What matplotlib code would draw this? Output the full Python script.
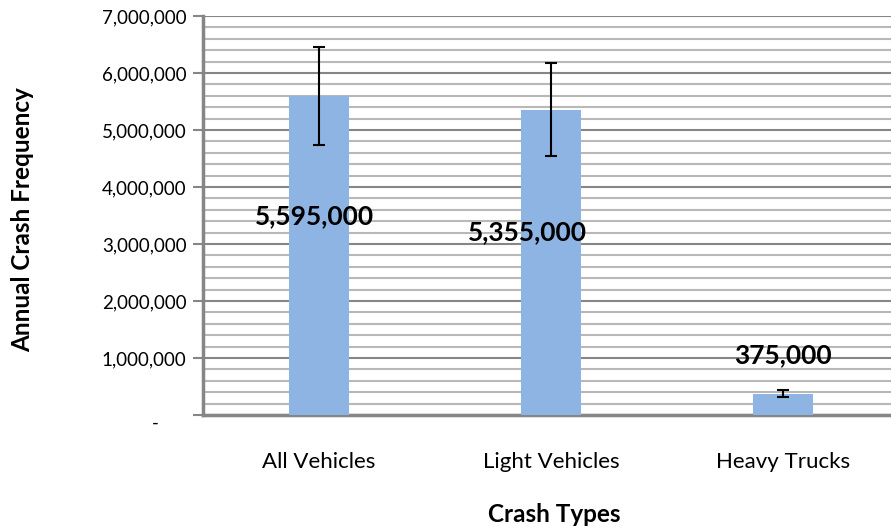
import matplotlib.pyplot as plt
import matplotlib.transforms as mtransforms
from matplotlib.ticker import MultipleLocator, FuncFormatter

categories = ['All Vehicles', 'Light Vehicles', 'Heavy Trucks']
values = [5595000, 5355000, 375000]
errors = [860000, 820000, 55000]
labels = ['5,595,000', '5,355,000', '375,000']
label_pos = [(-0.02, 3490000), (0.897, 3210000), (2, 1050000)]

plt.rcParams['font.family'] = ['Lato', 'DejaVu Sans']

def fmt(v, pos):
    if v == 0:
        return ''
    return format(int(v), ',')

fig = plt.figure(figsize=(8.91, 5.31), dpi=100)
ax = fig.add_axes([0.228, 0.2185, 0.781, 0.7515])

x = range(len(categories))
ax.bar(x, values, width=0.26, color='#8EB4E3', zorder=3)
ax.errorbar(x, values, yerr=errors, fmt='none', ecolor='black', elinewidth=1.5,
            capsize=4.5, capthick=1.5, zorder=4)

for (px, py), t in zip(label_pos, labels):
    ax.text(px, py, t, ha='center', va='center', fontsize=19, fontweight='bold', zorder=5)

ax.set_xlim(-0.5, 2.5)
ax.set_ylim(0, 7000000)
ax.yaxis.set_major_locator(MultipleLocator(1000000))
ax.yaxis.set_minor_locator(MultipleLocator(200000))
ax.yaxis.set_major_formatter(FuncFormatter(fmt))
ax.grid(which='major', axis='y', color='#868686', linewidth=1.5, zorder=1)
ax.grid(which='minor', axis='y', color='#b8b8b8', linewidth=1.5, zorder=1)

# accounting-style dash for zero
trans = mtransforms.blended_transform_factory(ax.transAxes, ax.transData)
ax.text(-0.069, -150000, '-', transform=trans, ha='center', va='center', fontsize=13.5)

ax.set_xticks(list(x))
ax.set_xticklabels(categories, fontsize=16)
ax.tick_params(axis='x', length=0, pad=27)
ax.tick_params(axis='y', which='major', length=7, width=1.5, color='#868686', labelsize=13.5, pad=5)
ax.tick_params(axis='y', which='minor', length=0)

for s in ['top', 'right']:
    ax.spines[s].set_visible(False)
ax.spines['left'].set_color('#868686')
ax.spines['left'].set_linewidth(2.5)
ax.spines['bottom'].set_color('#868686')
ax.spines['bottom'].set_linewidth(2.5)

ax.set_ylabel('Annual Crash Frequency', fontsize=17.5, fontweight='bold')
ax.yaxis.set_label_coords(-0.26, 0.489)
ax.set_xlabel('Crash Types', fontsize=17.5, fontweight='bold')
ax.xaxis.set_label_coords(0.504, -0.25)
ax.xaxis.label.set_va('center')
ax.yaxis.label.set_va('center')

fig.savefig('out.png', dpi=100)
